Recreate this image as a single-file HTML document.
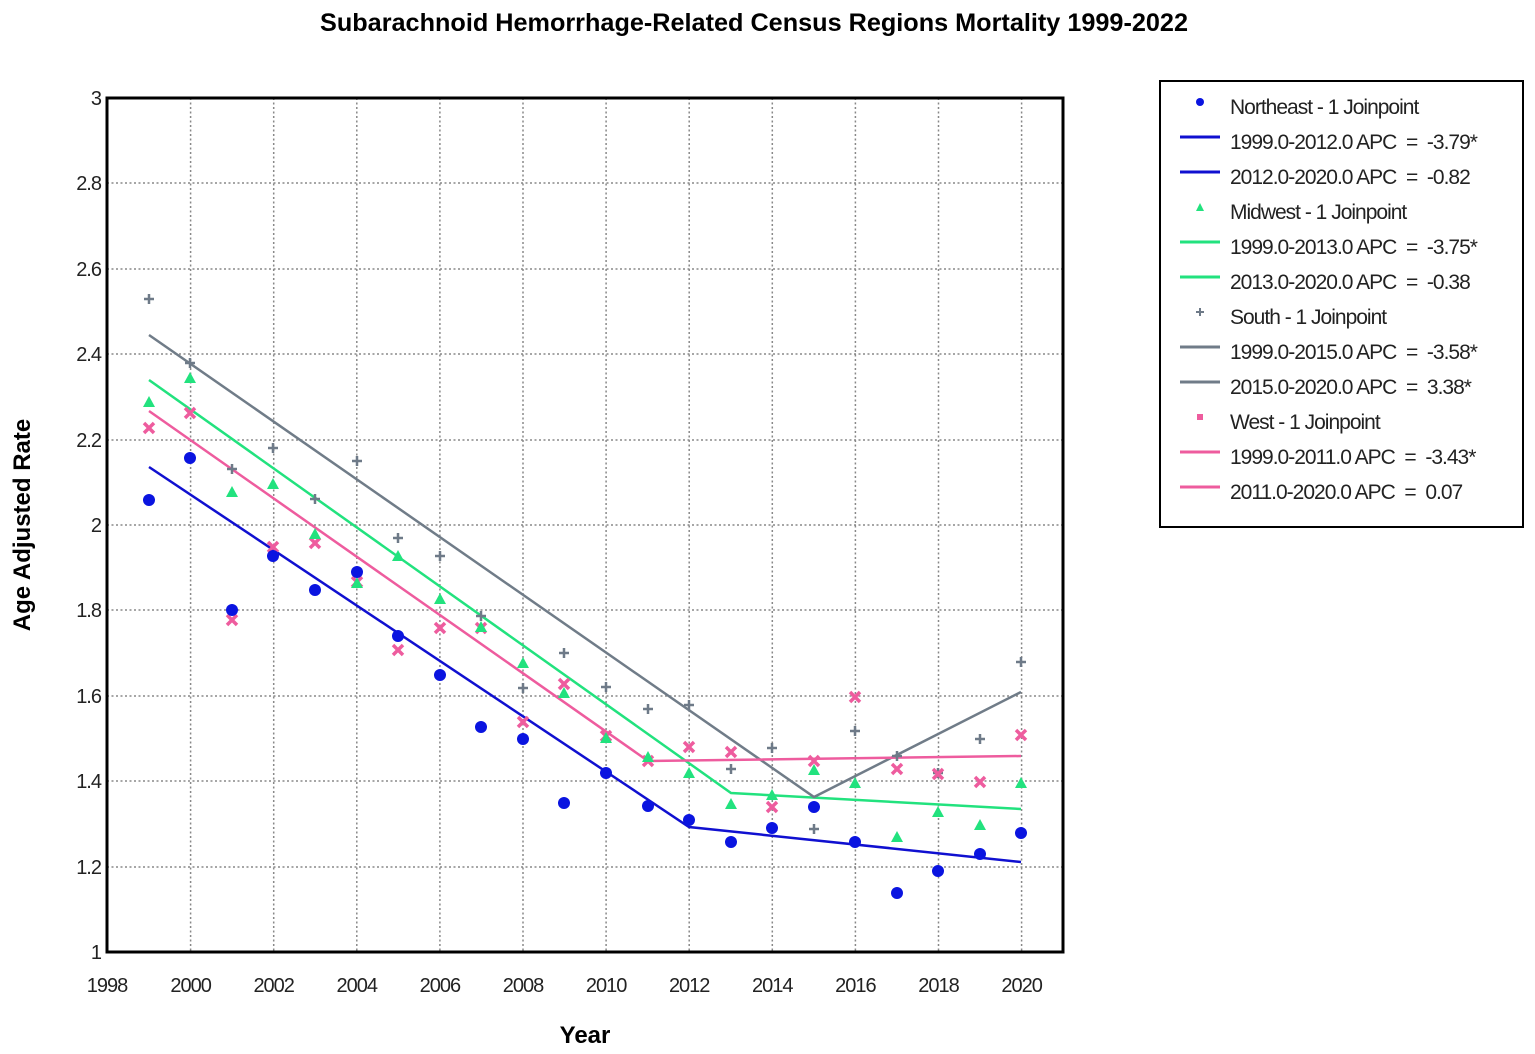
<!DOCTYPE html>
<html><head><meta charset="utf-8"><style>
html,body{margin:0;padding:0;background:#fff;}
svg{display:block;font-family:"Liberation Sans",sans-serif;}
text{white-space:pre;}
</style></head><body>
<svg width="1535" height="1054" viewBox="0 0 1535 1054" xmlns="http://www.w3.org/2000/svg">
<defs>
<symbol id="c" overflow="visible"><circle r="6" fill="#0a14e0"/></symbol>
<symbol id="t" overflow="visible"><polygon points="0,-6 6,5 -6,5" fill="#22e27e"/></symbol>
<symbol id="p" overflow="visible"><path d="M-5,0H5M0,-5V5" stroke="#6e7a88" stroke-width="2.5"/></symbol>
<symbol id="x" overflow="visible"><path d="M-5,-5L5,5M5,-5L-5,5" stroke="#ee5c9e" stroke-width="3.5"/></symbol>
</defs>
<text x="320" y="31" textLength="868" lengthAdjust="spacingAndGlyphs" font-size="25" font-weight="bold">Subarachnoid Hemorrhage-Related Census Regions Mortality 1999-2022</text>
<g stroke="#888" stroke-width="1.5" stroke-dasharray="2,2.5">
<path d="M190.6,98V952M273.7,98V952M356.8,98V952M439.9,98V952M523,98V952M606.1,98V952M689.2,98V952M772.3,98V952M855.4,98V952M938.5,98V952M1021.6,98V952"/>
<path d="M107,183H1063M107,269H1063M107,354H1063M107,440H1063M107,525H1063M107,610H1063M107,696H1063M107,781H1063M107,867H1063"/>
</g>
<rect x="107" y="98" width="956" height="854" fill="none" stroke="#000" stroke-width="3"/>
<g font-size="20" text-anchor="end" fill="#222" letter-spacing="-1">
<text x="101" y="105">3</text><text x="101" y="190">2.8</text><text x="101" y="276">2.6</text><text x="101" y="361">2.4</text><text x="101" y="447">2.2</text><text x="101" y="532">2</text><text x="101" y="617">1.8</text><text x="101" y="703">1.6</text><text x="101" y="788">1.4</text><text x="101" y="874">1.2</text><text x="101" y="959">1</text>
</g>
<g font-size="20" text-anchor="middle" fill="#222" letter-spacing="-1">
<text x="107" y="992">1998</text><text x="190.6" y="992">2000</text><text x="273.7" y="992">2002</text><text x="356.8" y="992">2004</text><text x="439.9" y="992">2006</text><text x="523" y="992">2008</text><text x="606.1" y="992">2010</text><text x="689.2" y="992">2012</text><text x="772.3" y="992">2014</text><text x="855.4" y="992">2016</text><text x="938.5" y="992">2018</text><text x="1021.6" y="992">2020</text>
</g>
<text x="585" y="1043" text-anchor="middle" font-size="24" font-weight="bold">Year</text>
<text transform="translate(30,525) rotate(-90)" text-anchor="middle" font-size="24" font-weight="bold">Age Adjusted Rate</text>
<g fill="none" stroke-width="2.5">
<polyline points="149,467 689,827 1021,862" stroke="#1010d0"/>
<polyline points="149,380 731,793 1021,809" stroke="#22e27e"/>
<polyline points="149,335 814,797 1021,692" stroke="#707c88"/>
<polyline points="149,411 648,761 1021,756" stroke="#ee5c9e"/>
</g>
<g>
<use href="#p" x="149" y="299"/><use href="#p" x="190" y="363"/><use href="#p" x="232" y="469"/><use href="#p" x="273" y="448"/><use href="#p" x="315" y="499"/><use href="#p" x="357" y="461"/><use href="#p" x="398" y="538"/><use href="#p" x="440" y="556"/><use href="#p" x="481" y="616"/><use href="#p" x="523" y="688"/><use href="#p" x="564" y="653"/><use href="#p" x="606" y="687"/><use href="#p" x="648" y="709"/><use href="#p" x="689" y="705"/><use href="#p" x="731" y="769"/><use href="#p" x="772" y="748"/><use href="#p" x="814" y="829"/><use href="#p" x="855" y="731"/><use href="#p" x="897" y="756"/><use href="#p" x="938" y="773"/><use href="#p" x="980" y="739"/><use href="#p" x="1021" y="662"/>
<use href="#x" x="149" y="428"/><use href="#x" x="190" y="413"/><use href="#x" x="232" y="620"/><use href="#x" x="273" y="547"/><use href="#x" x="315" y="543"/><use href="#x" x="357" y="582"/><use href="#x" x="398" y="650"/><use href="#x" x="440" y="628"/><use href="#x" x="481" y="628"/><use href="#x" x="523" y="722"/><use href="#x" x="564" y="684"/><use href="#x" x="606" y="736"/><use href="#x" x="648" y="761"/><use href="#x" x="689" y="747"/><use href="#x" x="731" y="752"/><use href="#x" x="772" y="807"/><use href="#x" x="814" y="761"/><use href="#x" x="855" y="697"/><use href="#x" x="897" y="769"/><use href="#x" x="938" y="774"/><use href="#x" x="980" y="782"/><use href="#x" x="1021" y="735"/>
<use href="#t" x="149" y="402"/><use href="#t" x="190" y="378"/><use href="#t" x="232" y="492"/><use href="#t" x="273" y="484"/><use href="#t" x="315" y="534"/><use href="#t" x="357" y="583"/><use href="#t" x="398" y="556"/><use href="#t" x="440" y="599"/><use href="#t" x="481" y="627"/><use href="#t" x="523" y="663"/><use href="#t" x="564" y="693"/><use href="#t" x="606" y="738"/><use href="#t" x="648" y="757"/><use href="#t" x="689" y="773"/><use href="#t" x="731" y="804"/><use href="#t" x="772" y="795"/><use href="#t" x="814" y="770"/><use href="#t" x="855" y="783"/><use href="#t" x="897" y="837"/><use href="#t" x="938" y="812"/><use href="#t" x="980" y="825"/><use href="#t" x="1021" y="783"/>
<use href="#c" x="149" y="500"/><use href="#c" x="190" y="458"/><use href="#c" x="232" y="610"/><use href="#c" x="273" y="556"/><use href="#c" x="315" y="590"/><use href="#c" x="357" y="572"/><use href="#c" x="398" y="636"/><use href="#c" x="440" y="675"/><use href="#c" x="481" y="727"/><use href="#c" x="523" y="739"/><use href="#c" x="564" y="803"/><use href="#c" x="606" y="773"/><use href="#c" x="648" y="806"/><use href="#c" x="689" y="820"/><use href="#c" x="731" y="842"/><use href="#c" x="772" y="828"/><use href="#c" x="814" y="807"/><use href="#c" x="855" y="842"/><use href="#c" x="897" y="893"/><use href="#c" x="938" y="871"/><use href="#c" x="980" y="854"/><use href="#c" x="1021" y="833"/>
</g>
<rect x="1160" y="81" width="363" height="446" fill="#fff" stroke="#000" stroke-width="2"/>
<g font-size="21" fill="#222" letter-spacing="-1">
<circle cx="1200" cy="102" r="4" fill="#0a14e0"/><text x="1230" y="114">Northeast - 1 Joinpoint</text>
<path d="M1180,137H1220" stroke="#1010d0" stroke-width="3"/><text x="1230" y="149">1999.0-2012.0 APC  =  -3.79*</text>
<path d="M1180,172H1220" stroke="#1010d0" stroke-width="3"/><text x="1230" y="184">2012.0-2020.0 APC  =  -0.82</text>
<polygon points="1200,203 1204,211 1196,211" fill="#22e27e"/><text x="1230" y="219">Midwest - 1 Joinpoint</text>
<path d="M1180,242H1220" stroke="#22e27e" stroke-width="3"/><text x="1230" y="254">1999.0-2013.0 APC  =  -3.75*</text>
<path d="M1180,277H1220" stroke="#22e27e" stroke-width="3"/><text x="1230" y="289">2013.0-2020.0 APC  =  -0.38</text>
<path d="M1196,312H1204M1200,308V316" stroke="#6e7a88" stroke-width="2"/><text x="1230" y="324">South - 1 Joinpoint</text>
<path d="M1180,347H1220" stroke="#707c88" stroke-width="3"/><text x="1230" y="359">1999.0-2015.0 APC  =  -3.58*</text>
<path d="M1180,382H1220" stroke="#707c88" stroke-width="3"/><text x="1230" y="394">2015.0-2020.0 APC  =  3.38*</text>
<rect x="1197" y="414" width="6" height="6" fill="#ee5c9e"/><text x="1230" y="429">West - 1 Joinpoint</text>
<path d="M1180,452H1220" stroke="#ee5c9e" stroke-width="3"/><text x="1230" y="464">1999.0-2011.0 APC  =  -3.43*</text>
<path d="M1180,487H1220" stroke="#ee5c9e" stroke-width="3"/><text x="1230" y="499">2011.0-2020.0 APC  =  0.07</text>
</g>
</svg>
</body></html>
